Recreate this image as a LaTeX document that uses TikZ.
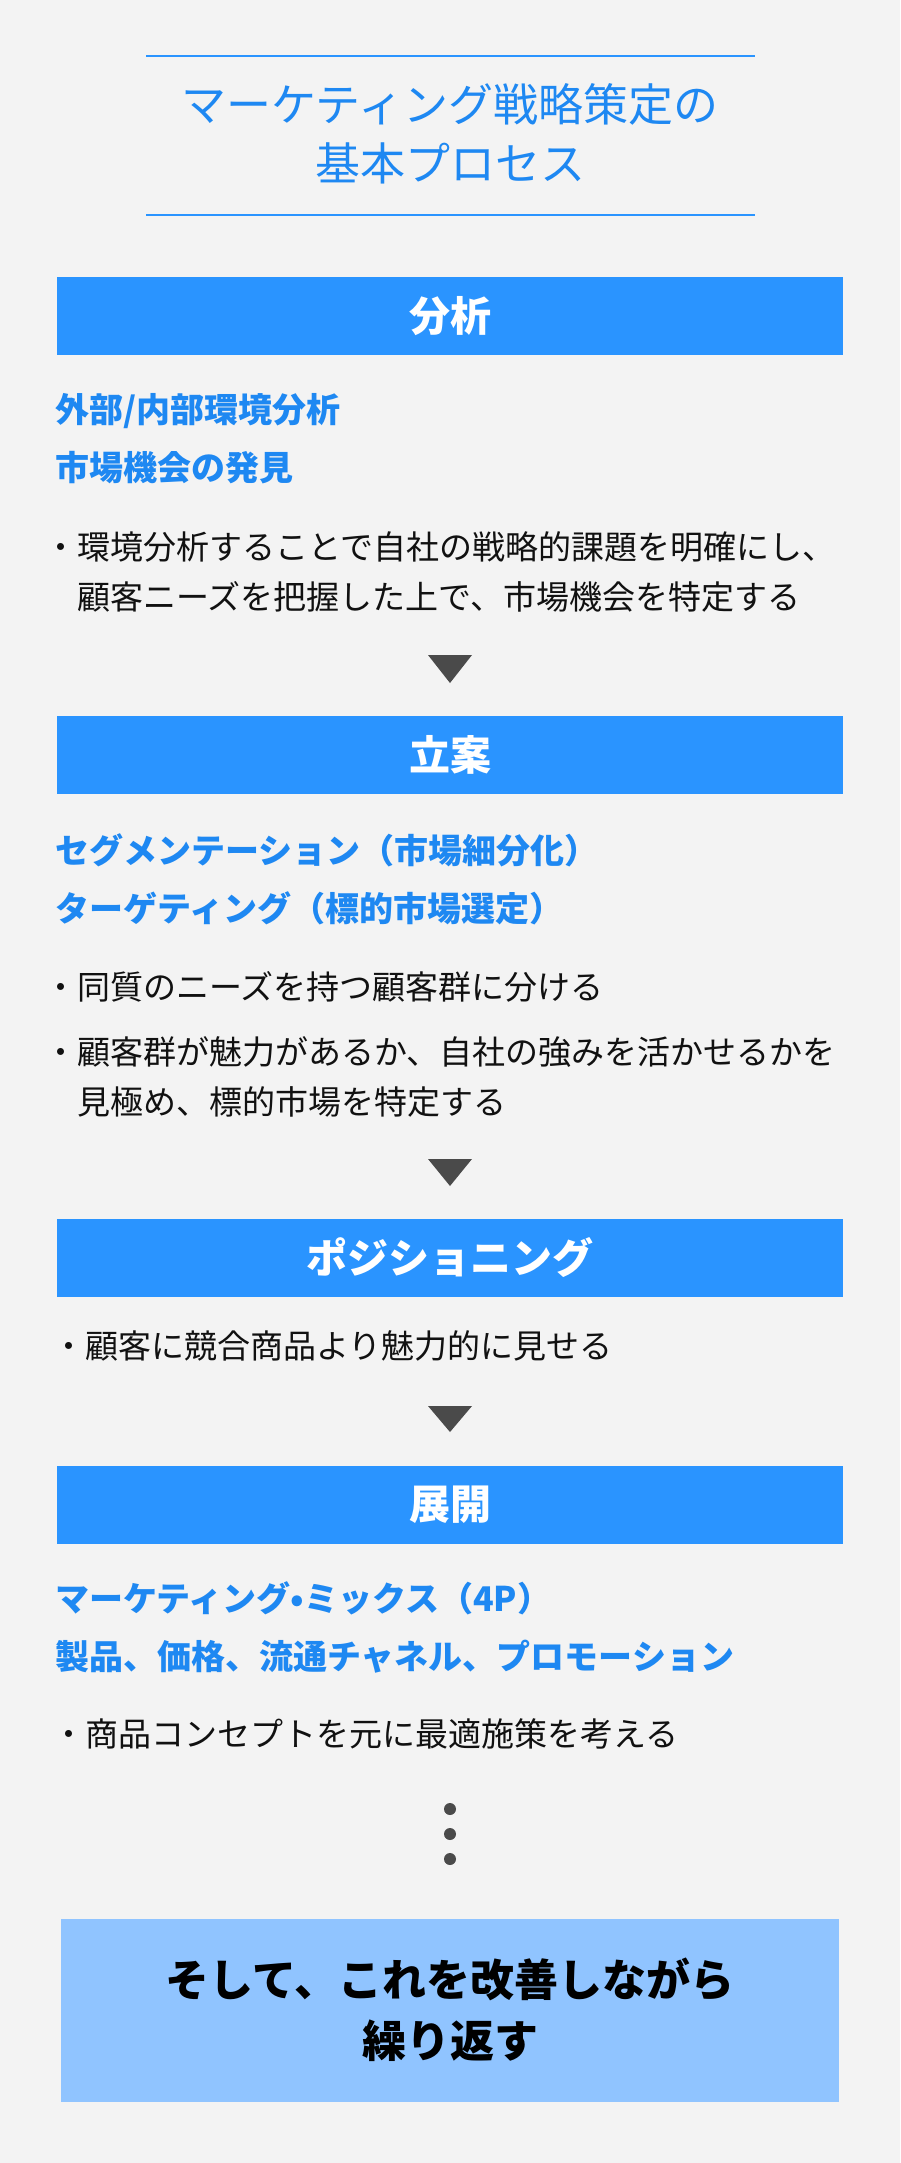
\documentclass[tikz,border=0pt]{standalone}
\usepackage{fontspec}
\setmainfont{Noto Sans CJK JP}
\usepackage{tikz}

\definecolor{bggray}{HTML}{F3F3F3}
\definecolor{stageblue}{HTML}{2A94FF}
\definecolor{headblue}{HTML}{1E88F2}
\definecolor{lastblue}{HTML}{90C4FF}
\definecolor{trigray}{HTML}{4A4A4A}
\definecolor{bodyblack}{HTML}{111111}

\begin{document}
\begin{tikzpicture}[x=1pt,y=-1pt]
  \tikzset{stage/.style = {fill=stageblue,text=white,minimum width=786pt,minimum height=78pt,inner sep=0pt,font=\bfseries\fontsize{41}{48}\selectfont}}
  \tikzset{heading/.style = {anchor=west,inner sep=0pt,align=left,text=headblue,font=\bfseries\fontsize{34}{58}\selectfont}}
  \tikzset{point/.style = {anchor=west,inner sep=0pt,align=left,text=bodyblack,font=\fontsize{33}{50}\selectfont}}
  \tikzset{downtri/.style = {fill=trigray}}

\useasboundingbox (0,0) rectangle (900,2163);
\fill[bggray] (0,0) rectangle (900,2163);

% title
\draw[stageblue,line width=1.6pt] (146,56) -- (755,56);
\node[align=center,inner sep=0pt,text=headblue,font=\fontsize{45}{59}\selectfont] (title) at (450,134) {マーケティング戦略策定の\\基本プロセス};
\draw[stageblue,line width=1.6pt] (146,215) -- (755,215);

% analysis
\node[stage] (bunseki) at (450,316) {分析};
\node[heading] (bunsekih) at (55,439) {外部/内部環境分析\\市場機会の発見};
\node[point] (bunsekip) at (44,572) {・環境分析することで自社の戦略的課題を明確にし、\\\hspace{1em}顧客ニーズを把握した上で、市場機会を特定する};
\fill[downtri] (428,655) -- (472,655) -- (450,683) -- cycle;

% planning
\node[stage] (ritsuan) at (450,755) {立案};
\node[heading] (ritsuanh) at (55,879) {セグメンテーション（市場細分化）\\ターゲティング（標的市場選定）};
\node[point] (ritsuanp) at (44,987) {・同質のニーズを持つ顧客群に分ける};
\node[point] (ritsuanq) at (44,1077) {・顧客群が魅力があるか、自社の強みを活かせるかを\\\hspace{1em}見極め、標的市場を特定する};
\fill[downtri] (428,1159) -- (472,1159) -- (450,1186) -- cycle;

% positioning
\node[stage] (position) at (450,1258) {ポジショニング};
\node[point] (positionp) at (52,1346) {・顧客に競合商品より魅力的に見せる};
\fill[downtri] (428,1406) -- (472,1406) -- (450,1432) -- cycle;

% rollout
\node[stage] (tenkai) at (450,1505) {展開};
\node[heading] (tenkaih) at (55,1627) {マーケティング•ミックス（4P）\\製品、価格、流通チャネル、プロモーション};
\node[point] (tenkaip) at (52,1734) {・商品コンセプトを元に最適施策を考える};

\foreach \y in {1809,1834,1859}
  \fill[trigray] (450,\y) circle (6pt);

\node[fill=lastblue,minimum width=778pt,minimum height=183pt,inner sep=0pt,align=center,text=black,font=\bfseries\fontsize{44}{61}\selectfont] (kaizen) at (450,2010) {そして、これを改善しながら\\繰り返す};

\end{tikzpicture}
\end{document}
